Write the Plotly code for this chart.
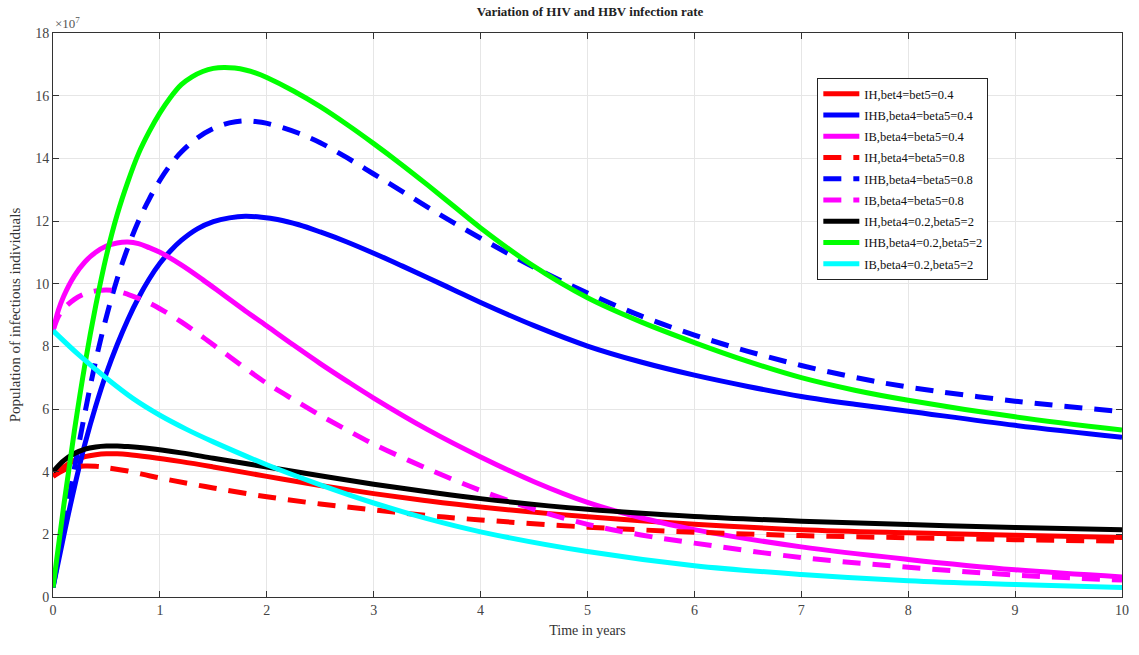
import plotly.graph_objects as go

# values in units of 1e7 individuals, time in years
t_ihb_02_2 = [0, 0.1, 0.2, 0.3, 0.4, 0.5, 0.6, 0.7, 0.8, 0.9, 1.0, 1.1, 1.2, 1.3, 1.4, 1.5, 1.6, 1.7, 1.8, 1.9, 2.0,
              2.25, 2.5, 2.75, 3.0, 3.25, 3.5, 3.75, 4.0, 4.5, 5.0, 5.5, 6.0, 6.5, 7, 7.5, 8, 9, 10]
ihb_02_2 = [0.3, 2.9, 5.3, 7.45, 9.3, 10.9, 12.2, 13.25, 14.15, 14.85, 15.45, 15.95, 16.35, 16.6, 16.77, 16.87, 16.9, 16.88, 16.82, 16.72, 16.58,
            16.15, 15.65, 15.08, 14.47, 13.83, 13.16, 12.47, 11.78, 10.55, 9.55, 8.78, 8.12, 7.52, 7.0, 6.6, 6.28, 5.75, 5.33]

t_ihb_08 = [0, 0.1, 0.2, 0.3, 0.4, 0.5, 0.6, 0.7, 0.8, 0.9, 1.0, 1.1, 1.2, 1.35, 1.5, 1.65, 1.8, 1.95, 2.1, 2.3, 2.5,
            2.75, 3.0, 3.25, 3.5, 3.75, 4.0, 4.5, 5, 5.5, 6, 6.5, 7, 7.5, 8, 9, 10]
ihb_08 = [0.3, 2.2, 4.1, 5.9, 7.55, 8.95, 10.15, 11.15, 12.0, 12.7, 13.3, 13.8, 14.2, 14.65, 14.95, 15.13, 15.2, 15.15, 15.03, 14.8, 14.5,
          14.02, 13.5, 12.98, 12.45, 11.94, 11.45, 10.52, 9.7, 8.97, 8.36, 7.84, 7.39, 7.01, 6.7, 6.25, 5.92]

t_ihb_04 = [0, 0.1, 0.2, 0.3, 0.4, 0.5, 0.6, 0.7, 0.8, 0.9, 1.0, 1.1, 1.2, 1.35, 1.5, 1.65, 1.8, 1.95, 2.1, 2.3, 2.5,
            2.75, 3.0, 3.25, 3.5, 3.75, 4.0, 4.5, 5.0, 5.5, 6, 6.5, 7, 7.5, 8, 9, 10]
ihb_04 = [0.3, 1.95, 3.5, 4.9, 6.1, 7.15, 8.05, 8.85, 9.55, 10.15, 10.65, 11.05, 11.38, 11.75, 11.98, 12.1, 12.15, 12.12, 12.05, 11.88, 11.65,
          11.33, 10.97, 10.59, 10.2, 9.8, 9.4, 8.66, 8.01, 7.5, 7.08, 6.72, 6.4, 6.15, 5.93, 5.48, 5.1]

t_ib_04 = [0, 0.05, 0.1, 0.2, 0.3, 0.4, 0.5, 0.6, 0.7, 0.8, 0.9, 1.0, 1.2, 1.4, 1.6, 1.8, 2.0,
           2.25, 2.5, 2.75, 3.0, 3.5, 4, 4.5, 5, 5.5, 6, 7, 8, 9, 10]
ib_04 = [8.5, 9.15, 9.6, 10.25, 10.7, 11.0, 11.2, 11.3, 11.33, 11.28, 11.15, 11.0, 10.6, 10.13, 9.63, 9.13, 8.65,
         8.04, 7.45, 6.89, 6.35, 5.35, 4.47, 3.68, 3.02, 2.53, 2.15, 1.6, 1.2, 0.87, 0.64]

t_ib_08 = [0, 0.05, 0.1, 0.2, 0.3, 0.4, 0.5, 0.6, 0.7, 0.8, 0.9, 1.0, 1.2, 1.4, 1.6, 1.8, 2.0,
           2.25, 2.5, 2.75, 3.0, 3.5, 4.0, 4.5, 5, 5.5, 6, 7, 8, 9, 10]
ib_08 = [8.5, 8.95, 9.2, 9.5, 9.68, 9.77, 9.8, 9.76, 9.66, 9.53, 9.38, 9.2, 8.78, 8.3, 7.8, 7.3, 6.82,
         6.3, 5.8, 5.33, 4.88, 4.1, 3.4, 2.8, 2.32, 1.98, 1.72, 1.26, 0.95, 0.7, 0.54]

t_ib_02_2 = [0, 0.25, 0.5, 0.75, 1.0, 1.25, 1.5, 2.0, 2.5, 3.0, 3.5, 4, 5, 6, 7, 8, 9, 10]
ib_02_2 = [8.5, 7.7, 6.98, 6.33, 5.8, 5.35, 4.95, 4.22, 3.58, 3.0, 2.5, 2.08, 1.45, 1.0, 0.72, 0.52, 0.4, 0.3]

t_ih = [0, 0.1, 0.2, 0.3, 0.4, 0.5, 0.6, 0.7, 0.9, 1.2, 1.5, 2.0, 2.5, 3, 3.5, 4, 5, 6, 7, 8, 9, 10]
ih_02_2 = [4.0, 4.35, 4.58, 4.72, 4.79, 4.82, 4.82, 4.8, 4.74, 4.6, 4.43, 4.15, 3.87, 3.6, 3.36, 3.14, 2.8, 2.57, 2.42, 2.31, 2.22, 2.15]
ih_04 = [3.85, 4.15, 4.36, 4.48, 4.54, 4.57, 4.57, 4.55, 4.47, 4.32, 4.15, 3.85, 3.56, 3.3, 3.07, 2.87, 2.56, 2.32, 2.15, 2.05, 1.97, 1.9]

t_ih_08 = [0, 0.1, 0.2, 0.3, 0.4, 0.5, 0.7, 0.9, 1.1, 1.5, 2.0, 2.5, 3, 3.5, 4, 5, 6, 7, 8, 9, 10]
ih_08 = [3.85, 4.05, 4.15, 4.18, 4.17, 4.13, 4.02, 3.87, 3.73, 3.48, 3.2, 2.97, 2.78, 2.6, 2.46, 2.23, 2.07, 1.96, 1.89, 1.83, 1.78]

names = [
    "IH,bet4=bet5=0.4", "IHB,beta4=beta5=0.4", "IB,beta4=beta5=0.4",
    "IH,beta4=beta5=0.8", "IHB,beta4=beta5=0.8", "IB,beta4=beta5=0.8",
    "IH,beta4=0.2,beta5=2", "IHB,beta4=0.2,beta5=2", "IB,beta4=0.2,beta5=2",
]
xs = [t_ih, t_ihb_04, t_ib_04, t_ih_08, t_ihb_08, t_ib_08, t_ih, t_ihb_02_2, t_ib_02_2]
ys = [ih_04, ihb_04, ib_04, ih_08, ihb_08, ib_08, ih_02_2, ihb_02_2, ib_02_2]
colors = ["#ff0000", "#0000ff", "#ff00ff", "#ff0000", "#0000ff", "#ff00ff", "#000000", "#00ff00", "#00ffff"]
dashes = ["solid", "solid", "solid", "18px,12px", "18px,12px", "18px,12px", "solid", "solid", "solid"]

fig = go.Figure()
for i, (n, x, y, c, d) in enumerate(zip(names, xs, ys, colors, dashes)):
    fig.add_trace(go.Scatter(x=x, y=y, name=n, mode="lines", legendgroup=f"g{i}",
                             line=dict(color=c, width=5, dash=d, shape="spline", smoothing=1.0)))

font = "Liberation Serif, Times New Roman, serif"
fig.update_layout(
    width=1139, height=655,
    margin=dict(l=53, r=10, t=33, b=58),
    paper_bgcolor="white", plot_bgcolor="white",
    font=dict(family=font, size=13, color="#404040"),
    title=dict(text="<b>Variation of HIV and HBV infection rate</b>", x=0.518, xanchor="center",
               y=0.99, yanchor="top", font=dict(family=font, size=13, color="#222222")),
    showlegend=True,
    legend=dict(x=0.715, y=0.92, xanchor="left", yanchor="top",
                bgcolor="white", bordercolor="#222222", borderwidth=1,
                font=dict(family=font, size=12.5, color="#111111"),
                itemwidth=36, tracegroupgap=2),
)
fig.update_xaxes(range=[0, 10], dtick=1, showgrid=True, gridcolor="#e6e6e6",
                 showline=True, linecolor="#333333", linewidth=1, mirror="allticks",
                 ticks="inside", ticklen=6, tickcolor="#333333", zeroline=False,
                 title=dict(text="Time in years", font=dict(family=font, size=14, color="#333333"), standoff=8),
                 tickfont=dict(family=font, size=14, color="#444444"))
fig.update_yaxes(range=[0, 18], dtick=2, showgrid=True, gridcolor="#e6e6e6",
                 showline=True, linecolor="#333333", linewidth=1, mirror="allticks",
                 ticks="inside", ticklen=6, tickcolor="#333333", zeroline=False,
                 title=dict(text="Population of infectious individuals", font=dict(family=font, size=15, color="#333333"), standoff=10),
                 tickfont=dict(family=font, size=14, color="#444444"))
fig.add_annotation(x=0, y=1, xref="paper", yref="paper", xanchor="left", yanchor="bottom",
                   text="×10<sup>7</sup>", showarrow=False,
                   font=dict(family=font, size=13, color="#555555"))

fig.write_html("out.html")
